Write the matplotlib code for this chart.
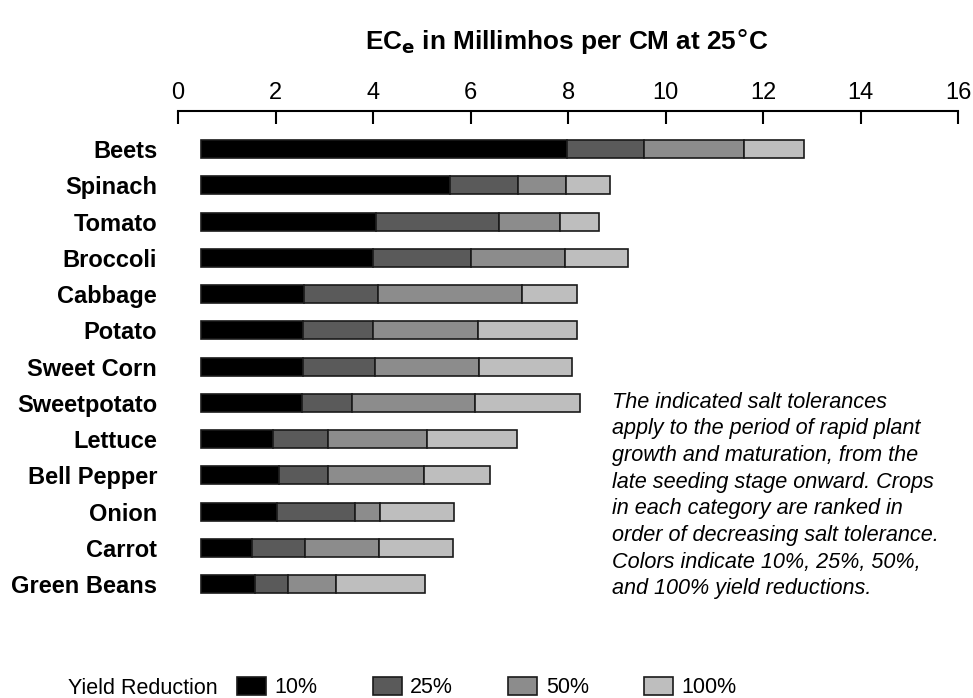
import numpy as np
import matplotlib
matplotlib.use('Agg')
import matplotlib.pyplot as plt

plt.rcParams['font.family'] = ['Liberation Sans', 'DejaVu Sans']

# 作物名称（从上到下）
crops = ['Beets', 'Spinach', 'Tomato', 'Broccoli', 'Cabbage', 'Potato', 'Sweet Corn',
         'Sweetpotato', 'Lettuce', 'Bell Pepper', 'Onion', 'Carrot', 'Green Beans']

# 每个减产等级的 ECe 终点（累计值）
bar_start = 0.47
ec_10 = [7.97, 5.58, 4.05, 4.00, 2.59, 2.57, 2.56, 2.54, 1.95, 2.07, 2.03, 1.51, 1.57]
ec_25 = [9.55, 6.96, 6.59, 6.00, 4.10, 3.99, 4.03, 3.57, 3.07, 3.07, 3.63, 2.60, 2.26]
ec_50 = [11.60, 7.95, 7.83, 7.94, 7.05, 6.15, 6.17, 6.08, 5.10, 5.05, 4.15, 4.13, 3.23]
ec_100 = [12.83, 8.86, 8.64, 9.23, 8.19, 8.19, 8.08, 8.25, 6.95, 6.40, 5.65, 5.63, 5.07]

levels = ['10%', '25%', '50%', '100%']
colors = ['#000000', '#5a5a5a', '#8c8c8c', '#bebebe']

fig = plt.figure(figsize=(9.73, 6.98), dpi=100)
ax = fig.add_axes([0.183, 0.1404, 0.802, 0.701])

y = np.arange(len(crops))
ends = [np.array(ec_10), np.array(ec_25), np.array(ec_50), np.array(ec_100)]
left = np.full(len(crops), bar_start)
handles = []
for lvl, col, end in zip(levels, colors, ends):
    b = ax.barh(y, end - left, left=left, height=0.5, color=col,
                edgecolor='#1a1a1a', linewidth=1.2, label=lvl)
    handles.append(b)
    left = end

# 坐标轴设置
ax.set_xlim(0, 16)
ax.set_ylim(12.44, -1.06)
ax.xaxis.tick_top()
ax.set_xticks(np.arange(0, 17, 2))
ax.tick_params(axis='x', direction='in', length=9, width=1.5, labelsize=17, pad=5)
ax.set_yticks(y)
ax.set_yticklabels(crops, fontweight='bold', fontsize=17)
ax.tick_params(axis='y', length=0, pad=15)
for s in ['right', 'left', 'bottom']:
    ax.spines[s].set_visible(False)
ax.spines['top'].set_linewidth(1.5)

# 标题
fig.text(0.583, 0.94, r'EC$_\mathbf{e}$ in Millimhos per CM at 25$\degree$C',
         ha='center', va='center', fontsize=18.8, fontweight='bold')

# 说明文字
note = ('The indicated salt tolerances\n'
        'apply to the period of rapid plant\n'
        'growth and maturation, from the\n'
        'late seeding stage onward. Crops\n'
        'in each category are ranked in\n'
        'order of decreasing salt tolerance.\n'
        'Colors indicate 10%, 25%, 50%,\n'
        'and 100% yield reductions.')
fig.text(0.629, 0.439, note, ha='left', va='top', fontsize=15.6,
         style='italic', linespacing=1.355)

# 图例
fig.text(0.224, 0.0136, 'Yield Reduction', ha='right', va='center', fontsize=15.5)
fig.legend(handles=handles, labels=levels, loc='center left',
           bbox_to_anchor=(0.2436, 0.0145), ncol=4, frameon=False, fontsize=15.5,
           handlelength=1.35, handleheight=0.88, handletextpad=0.4,
           columnspacing=2.55, borderaxespad=0, borderpad=0)

fig.savefig('out.png', dpi=100)
